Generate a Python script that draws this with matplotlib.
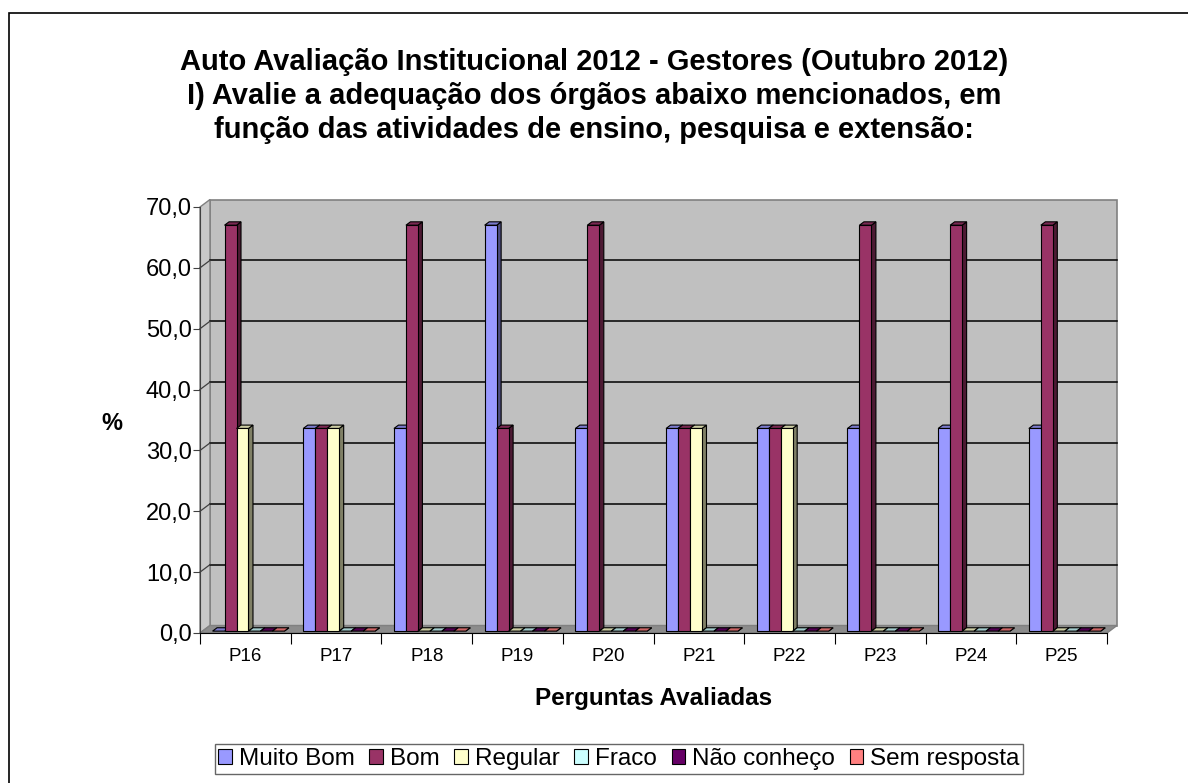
import numpy as np
import matplotlib.pyplot as plt
from matplotlib.patches import Polygon, Patch, Rectangle

plt.rcParams['font.family'] = ['Liberation Sans', 'DejaVu Sans']

categories = ['P16', 'P17', 'P18', 'P19', 'P20', 'P21', 'P22', 'P23', 'P24', 'P25']
series_names = ['Muito Bom', 'Bom', 'Regular', 'Fraco', 'Não conheço', 'Sem resposta']
muito_bom = [0.0, 33.3, 33.3, 66.7, 33.3, 33.3, 33.3, 33.3, 33.3, 33.3]
bom = [66.7, 33.3, 66.7, 33.3, 66.7, 33.3, 33.3, 66.7, 66.7, 66.7]
regular = [33.3, 33.3, 0.0, 0.0, 0.0, 33.3, 33.3, 0.0, 0.0, 0.0]
fraco = [0.0] * 10
nao_conheco = [0.0] * 10
sem_resposta = [0.0] * 10
colors = ['#9999FF', '#993366', '#FFFFCC', '#CCFFFF', '#660066', '#FF8080']
yticks = [0, 10, 20, 30, 40, 50, 60, 70]

series = [muito_bom, bom, regular, fraco, nao_conheco, sem_resposta]

W, H = 1188, 783
fig = plt.figure(figsize=(W / 100, H / 100), dpi=100)
fig.patch.set_facecolor('white')

# front plane of the 3d box
x0, x1, ytop, ybot = 200, 1107, 207, 633
ax = fig.add_axes([x0 / W, 1 - ybot / H, (x1 - x0) / W, (ybot - ytop) / H])
ax.set_xlim(0, len(categories))
ax.set_ylim(0, 70)
ax.patch.set_visible(False)

ncat = len(categories)
DX = 10 / ((x1 - x0) / ncat)          # depth shift, category units
DY = 7.5 / ((ybot - ytop) / 70)       # depth shift, value units

# walls and floor
back = Polygon([(DX, DY), (ncat + DX, DY), (ncat + DX, 70 + DY), (DX, 70 + DY)],
               closed=True, fc='#C0C0C0', ec='#808080', lw=1.2, clip_on=False, zorder=0)
left = Polygon([(0, 0), (DX, DY), (DX, 70 + DY), (0, 70)],
               closed=True, fc='#C8C8C8', ec='#808080', lw=1.0, clip_on=False, zorder=0)
floor = Polygon([(0, 0), (ncat, 0), (ncat + DX, DY), (DX, DY)],
                closed=True, fc='#8C8C8C', ec='#808080', lw=1.0, clip_on=False, zorder=0.5)
for p in (back, left, floor):
    ax.add_patch(p)

for v in yticks[1:-1]:
    ax.plot([DX, ncat + DX], [v + DY, v + DY], color='black', lw=1.1, zorder=1, clip_on=False)
    ax.plot([0, DX], [v, v + DY], color='#404040', lw=0.9, zorder=1, clip_on=False)


def shade(c, f):
    r, g, b = plt.matplotlib.colors.to_rgb(c)
    return (r * f, g * f, b * f)


bw = 0.132
start = 0.111
f0, f1 = 0.25, 0.7
z = 2
for i in range(ncat):
    for j, vals in enumerate(series):
        v = vals[i]
        xl = i + start + j * bw + f0 * DX
        xr = xl + bw
        yb = f0 * DY
        yt = v + f0 * DY
        ddx = (f1 - f0) * DX
        ddy = (f1 - f0) * DY
        c = colors[j]
        side = Polygon([(xr, yb), (xr + ddx, yb + ddy), (xr + ddx, yt + ddy), (xr, yt)],
                       closed=True, fc=shade(c, 0.5), ec='black', lw=0.8, zorder=z, clip_on=False)
        top = Polygon([(xl, yt), (xr, yt), (xr + ddx, yt + ddy), (xl + ddx, yt + ddy)],
                      closed=True, fc=shade(c, 0.8), ec='black', lw=0.8, zorder=z, clip_on=False)
        ax.add_patch(side)
        ax.add_patch(top)
        if v > 0:
            front = Rectangle((xl, yb), bw, v, fc=c, ec='black', lw=0.8, zorder=z + 0.1, clip_on=False)
            ax.add_patch(front)
        z += 0.2

for s in ('top', 'right'):
    ax.spines[s].set_visible(False)
ax.spines['left'].set_color('#404040')
ax.spines['bottom'].set_color('black')
ax.spines['left'].set_zorder(50)
ax.spines['bottom'].set_zorder(50)

ax.set_yticks(yticks)
ax.yaxis.set_major_formatter(plt.FuncFormatter(lambda v, p: ('%.1f' % v).replace('.', ',')))
ax.tick_params(axis='y', length=5, labelsize=17, pad=1, color='#404040')
ax.set_xticks(np.arange(ncat + 1))
ax.set_xticklabels([])
ax.set_xticks(np.arange(ncat) + 0.5, minor=True)
ax.set_xticklabels(categories, minor=True)
ax.tick_params(axis='x', which='major', length=8, color='black')
ax.tick_params(axis='x', which='minor', length=0, labelsize=13.5, pad=11)

fig.text(0.5, 1 - 96 / H,
         'Auto Avaliação Institucional 2012 - Gestores (Outubro 2012)\n'
         'I) Avalie a adequação dos órgãos abaixo mencionados, em\n'
         'função das atividades de ensino, pesquisa e extensão:',
         ha='center', va='center', fontsize=21, fontweight='bold', linespacing=1.27)
fig.text(112 / W, 1 - 423 / H, '%', ha='center', va='center', fontsize=17, fontweight='bold')
fig.text(654 / W, 1 - 698 / H, 'Perguntas Avaliadas', ha='center', va='center',
         fontsize=17.5, fontweight='bold')

handles = [Patch(fc=c, ec='black', lw=0.8) for c in colors]
leg = fig.legend(handles, series_names, loc='center', bbox_to_anchor=(619 / W, 1 - 759 / H),
                 ncol=6, fontsize=17.5, frameon=True, fancybox=False, handlelength=0.55,
                 handleheight=0.55, handletextpad=0.3, columnspacing=0.6, borderpad=0.15,
                 borderaxespad=0)
leg.get_frame().set_edgecolor('#404040')
leg.get_frame().set_linewidth(1)

fig.patches.append(Rectangle((9 / W, -0.05), (W + 20) / W, 1 - 13 / H + 0.05, transform=fig.transFigure,
                             fill=False, ec='black', lw=1.2))

fig.savefig('out.png', dpi=100)
